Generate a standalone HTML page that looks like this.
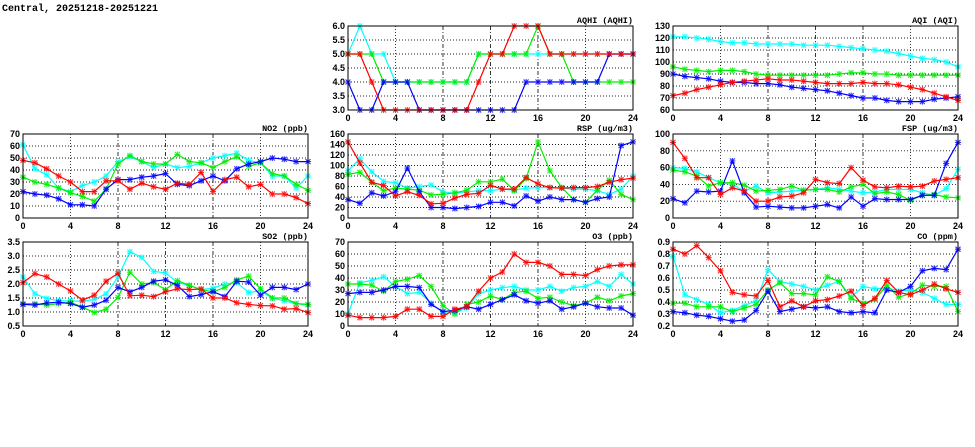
<!DOCTYPE html>
<html><head><meta charset="utf-8"><style>
html,body{margin:0;padding:0;background:#fff;width:975px;height:447px;overflow:hidden}
svg text{font-family:"Liberation Sans",sans-serif;font-weight:bold;font-size:9px;fill:#000}
svg text.m{font-family:"Liberation Mono",monospace;font-size:8.5px}
</style></head><body>
<svg id="s" width="975" height="447" xmlns="http://www.w3.org/2000/svg">
<text class="m" x="2" y="11" style="font-size:10px">Central, 20251218-20251221</text>
</svg>
<script>
const P=[
{x:348,y:26,t:"AQHI (AQHI)",min:3,max:6,step:0.5,dec:1,d:{
c:[5,6,5,5,4,4,4,4,4,4,4,5,5,5,5,5,5,5,5,5,5,5,5,5,5],
g:[5,5,5,4,4,4,4,4,4,4,4,5,5,5,5,5,6,5,5,4,4,4,4,4,4],
b:[4,3,3,4,4,4,3,3,3,3,3,3,3,3,3,4,4,4,4,4,4,4,5,5,5],
r:[5,5,4,3,3,3,3,3,3,3,3,4,5,5,6,6,6,5,5,5,5,5,5,5,5]}},
{x:673,y:26,t:"AQI (AQI)",min:60,max:130,step:10,dec:0,d:{
c:[121,121,120,119,117,116,116,115,115,115,115,114,114,114,113,112,111,110,109,107,105,103,102,100,96],
g:[96,94,93,92,93,93,92,90,89,89,89,89,89,89,90,91,91,90,90,89,89,89,89,89,89],
b:[90,88,87,86,84,83,83,82,82,81,79,78,77,76,74,72,70,70,68,67,67,67,69,70,71],
r:[72,74,77,79,81,83,84,85,86,85,85,84,83,82,82,82,83,82,82,81,79,77,74,71,68]}},
{x:23,y:134,t:"NO2 (ppb)",min:0,max:70,step:10,dec:0,d:{
c:[61,41,36,25,22,27,30,35,47,51,47,42,45,42,43,46,50,52,54,48,46,35,35,25,35],
g:[34,30,28,25,21,18,14,24,45,52,47,45,45,53,47,46,42,47,51,43,46,37,35,28,23],
b:[22,20,19,16,11,11,10,24,32,32,34,35,37,28,27,31,35,31,41,45,47,50,49,47,47],
r:[48,46,41,35,30,22,22,31,31,24,29,26,24,29,28,38,22,32,34,26,28,20,20,17,12]}},
{x:348,y:134,t:"RSP (ug/m3)",min:0,max:160,step:20,dec:0,d:{
c:[90,113,88,70,67,57,60,63,50,47,50,52,52,55,53,57,58,58,57,55,55,52,45,55,80],
g:[83,87,68,52,57,55,53,44,45,48,53,69,69,74,52,75,145,90,58,35,30,53,72,45,35],
b:[35,28,48,42,50,95,50,20,20,18,20,22,30,30,23,42,32,40,35,35,30,37,40,138,145],
r:[145,105,68,62,42,50,43,27,28,38,45,47,62,55,55,77,65,58,57,58,58,60,68,73,76]}},
{x:673,y:134,t:"FSP (ug/m3)",min:0,max:100,step:20,dec:0,d:{
c:[60,59,55,48,42,40,32,38,30,31,32,33,34,36,34,32,30,31,34,34,34,30,27,35,58],
g:[57,55,50,38,42,42,39,32,33,34,38,33,34,34,31,37,40,29,31,28,21,27,28,25,24],
b:[23,18,32,31,32,68,30,13,14,13,12,12,14,16,12,25,14,23,22,22,22,27,27,65,90],
r:[90,71,48,48,28,36,32,20,20,25,26,30,46,42,41,60,45,37,36,38,37,38,44,46,48]}},
{x:23,y:242,t:"SO2 (ppb)",min:0.5,max:3.5,step:0.5,dec:1,d:{
c:[2.25,1.65,1.48,1.4,1.4,1.38,1.45,1.65,2.25,3.15,2.95,2.45,2.4,2.05,1.95,1.8,1.85,2.0,2.05,1.7,1.75,1.5,1.4,1.3,1.25],
g:[1.3,1.3,1.25,1.3,1.35,1.17,0.98,1.1,1.52,2.42,2.0,2.05,1.8,2.12,1.95,1.8,1.72,1.88,2.15,2.28,1.83,1.5,1.5,1.3,1.27],
b:[1.27,1.25,1.32,1.35,1.3,1.17,1.25,1.42,1.88,1.72,1.88,2.1,2.15,1.95,1.55,1.62,1.73,1.55,2.1,2.07,1.6,1.88,1.88,1.8,2.0],
r:[2.05,2.37,2.25,2.0,1.75,1.42,1.6,2.1,2.38,1.58,1.6,1.55,1.72,1.83,1.8,1.82,1.5,1.5,1.33,1.27,1.23,1.22,1.1,1.12,0.98]}},
{x:348,y:242,t:"O3 (ppb)",min:0,max:70,step:10,dec:0,d:{
c:[10,36,38,41,33,27,28,19,11,11,15,27,30,32,33,30,30,33,29,32,33,37,33,43,35],
g:[35,35,34,29,37,39,42,33,17,10,18,20,25,22,28,29,23,24,20,17,19,24,21,25,27],
b:[27,28,28,30,33,33,32,18,12,13,16,14,18,22,26,21,19,21,14,16,19,16,15,15,9],
r:[9,7,7,7,8,14,14,8,8,14,16,29,40,45,60,53,53,50,43,43,42,47,50,51,51]}},
{x:673,y:242,t:"CO (ppm)",min:0.2,max:0.9,step:0.1,dec:1,d:{
c:[.78,.46,.42,.38,.31,.33,.37,.41,.67,.57,.55,.53,.50,.54,.57,.44,.53,.51,.52,.49,.50,.48,.43,.38,.38],
g:[.39,.39,.36,.36,.36,.32,.35,.38,.50,.56,.47,.47,.46,.61,.57,.43,.39,.42,.54,.44,.47,.54,.53,.53,.32],
b:[.32,.31,.29,.28,.26,.24,.25,.33,.49,.32,.34,.36,.35,.36,.32,.31,.32,.31,.50,.48,.53,.66,.68,.67,.84],
r:[.84,.80,.87,.77,.66,.48,.46,.45,.58,.36,.41,.36,.41,.42,.45,.49,.37,.43,.58,.48,.46,.50,.55,.51,.48]}}
];
const W=285,H=84,col={c:"#00ffff",g:"#00ee00",b:"#0000ff",r:"#ff0000"};
let h="";
for(const p of P){
 const X=i=>p.x+i*W/24, Y=v=>p.y+H-(v-p.min)/(p.max-p.min)*H;
 for(let v=p.min;v<=p.max+1e-9;v+=p.step){
  const y=Y(v).toFixed(1);
  if(v>p.min+1e-9&&v<p.max-1e-9)h+=`<line x1="${p.x}" x2="${p.x+W}" y1="${y}" y2="${y}" stroke="#222" stroke-width="0.9" stroke-dasharray="1,2"/>`;
  h+=`<text x="${p.x-3}" y="${+y+3}" text-anchor="end">${v.toFixed(p.dec)}</text>`;
 }
 for(let i=0;i<=24;i+=4){
  const x=X(i);
  if(i>0&&i<24)h+=`<line x1="${x}" x2="${x}" y1="${p.y}" y2="${p.y+H}" stroke="#222" stroke-width="0.9" stroke-dasharray="${i%8==0||i==12?'4,2,1,2':'1,2'}"/>`;
  h+=`<text x="${x}" y="${p.y+H+11}" text-anchor="middle">${i}</text>`;
 }
 h+=`<text class="m" x="${p.x+W}" y="${p.y-3}" text-anchor="end">${p.t}</text>`;
 for(const k of ["c","g","b","r"]){
  const a=p.d[k];
  const pts=a.map((v,i)=>X(i).toFixed(1)+","+Y(v).toFixed(1)).join(" ");
  h+=`<polyline points="${pts}" fill="none" stroke="${col[k]}" stroke-width="1.2"/>`;
  let m="";
  a.forEach((v,i)=>{const x=X(i),y=Y(v);m+=`M${x-2.5},${y-2.5}L${x+2.5},${y+2.5}M${x-2.5},${y+2.5}L${x+2.5},${y-2.5}M${x-3},${y}L${x+3},${y}M${x},${y-3}L${x},${y+3}`;});
  h+=`<path d="${m}" stroke="${col[k]}" stroke-width="1.1" opacity="0.8"/>`;
 }
 h+=`<rect x="${p.x}" y="${p.y}" width="${W}" height="${H}" fill="none" stroke="#000" stroke-width="1"/>`;
}
document.getElementById("s").insertAdjacentHTML("beforeend",h);
</script>
</body></html>
